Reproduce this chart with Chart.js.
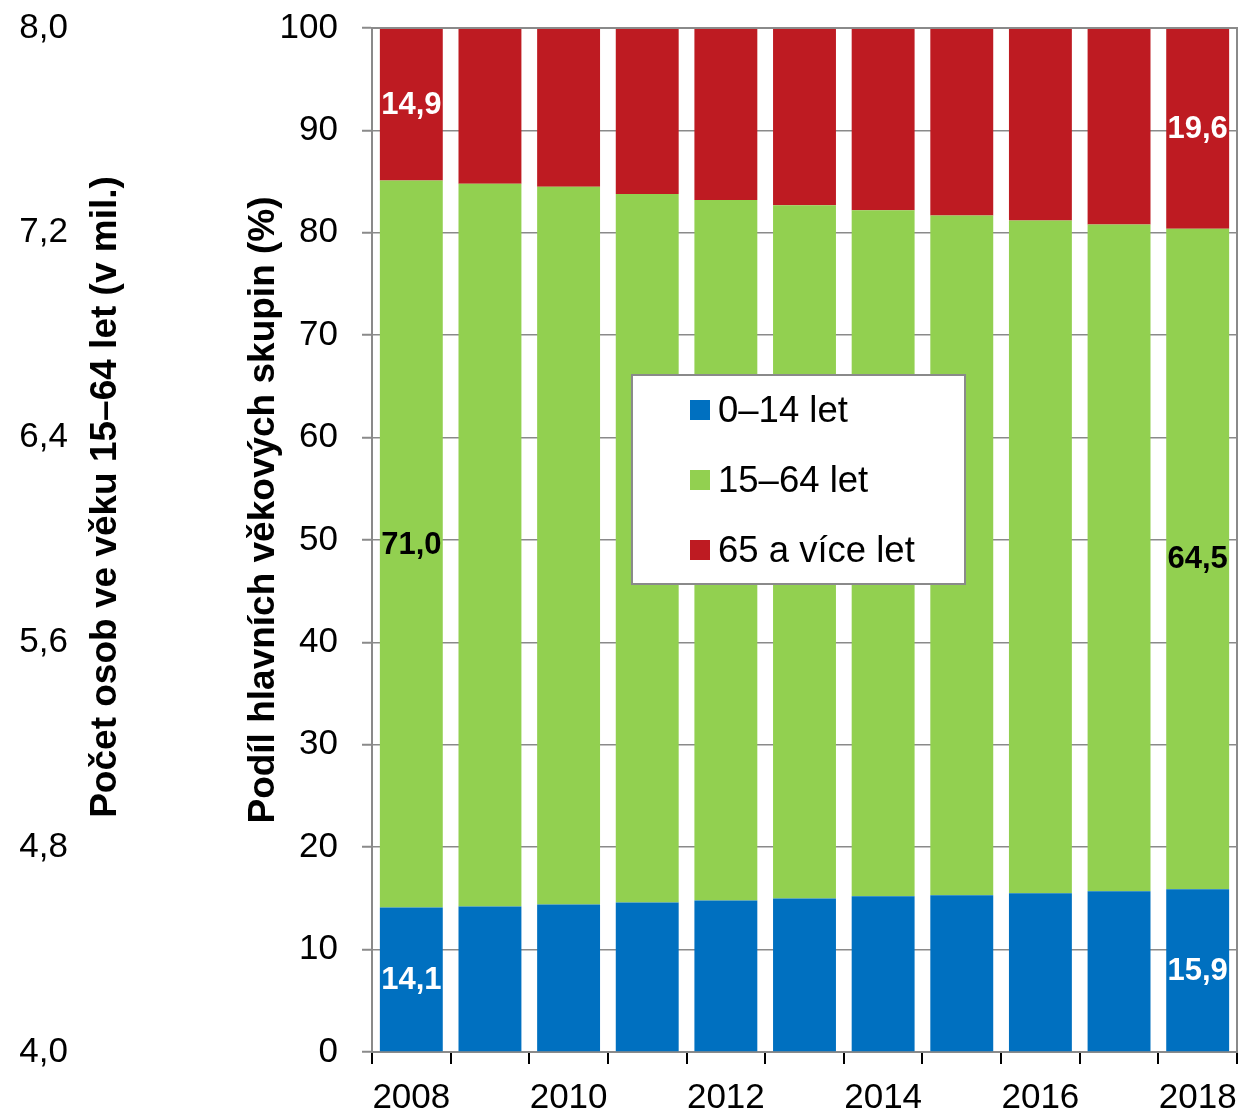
<!DOCTYPE html>
<html><head><meta charset="utf-8">
<script src="https://cdn.jsdelivr.net/npm/chart.js@4"></script>
<style>html,body{margin:0;padding:0;background:#fff}#wrap{width:1241px;height:1114px;position:relative}</style>
</head><body><div id="wrap"><canvas id="c" width="1241" height="1114"></canvas></div>
<script>
const years = ['2008','2009','2010','2011','2012','2013','2014','2015','2016','2017','2018'];
const seriesNames = ['0–14 let','15–64 let','65 a více let'];
const age0_14 = [14.1,14.2,14.4,14.6,14.8,15.0,15.2,15.3,15.5,15.7,15.9];
const age15_64 = [71.0,70.6,70.1,69.2,68.4,67.7,67.0,66.4,65.7,65.1,64.5];
const age65plus = [14.9,15.2,15.5,16.2,16.8,17.3,17.8,18.3,18.8,19.2,19.6];
const percentTicks = ['0','10','20','30','40','50','60','70','80','90','100'];
const countTicks = ['4,0','4,8','5,6','6,4','7,2','8,0'];
const titlePercent = 'Podíl hlavních věkových skupin (%)';
const titleCount = 'Počet osob ve věku 15–64 let (v mil.)';

const FONT = "'Liberation Sans', Arial, sans-serif";
const colors = ['#0070C0','#92D050','#BE1B22'];
const labelColors = ['#ffffff','#000000','#ffffff'];
const GREY = '#8a8a8a';

const framePlugin = {
  id:'frame',
  afterDatasetsDraw(chart){
    const {ctx, chartArea:a} = chart;
    ctx.save();
    ctx.strokeStyle = GREY; ctx.lineWidth = 2;
    ctx.beginPath();
    ctx.moveTo(a.left, a.top); ctx.lineTo(a.right, a.top); ctx.lineTo(a.right, a.bottom);
    ctx.stroke();
    ctx.restore();
  }
};

const labelPlugin = {
  id:'valueLabels',
  afterDatasetsDraw(chart){
    const ctx = chart.ctx;
    ctx.save();
    ctx.font = "bold 31px " + FONT;
    ctx.textAlign = 'center'; ctx.textBaseline = 'middle';
    chart.data.datasets.forEach((ds, i) => {
      const meta = chart.getDatasetMeta(i);
      [0, ds.data.length - 1].forEach(idx => {
        const el = meta.data[idx];
        const p = el.getProps(['x','y','base'], true);
        ctx.fillStyle = labelColors[i];
        ctx.fillText(ds.data[idx].toFixed(1).replace('.', ','), p.x, (p.y + p.base) / 2 + 1);
      });
    });
    ctx.restore();
  }
};

const legendPlugin = {
  id:'boxLegend',
  afterDraw(chart){
    const {ctx, chartArea:a} = chart;
    const x0 = a.left + 260, y0 = a.top + 347, w = 333, h = 209;
    ctx.save();
    ctx.fillStyle = '#fff'; ctx.fillRect(x0, y0, w, h);
    ctx.strokeStyle = GREY; ctx.lineWidth = 2; ctx.strokeRect(x0, y0, w, h);
    ctx.font = "36.5px " + FONT; ctx.textBaseline = 'middle'; ctx.textAlign = 'left';
    chart.data.datasets.forEach((ds, i) => {
      const cy = y0 + 35 + i * 70;
      ctx.fillStyle = ds.backgroundColor;
      ctx.fillRect(x0 + 58, cy - 10, 20, 20);
      ctx.fillStyle = '#000';
      ctx.fillText(ds.label, x0 + 86, cy + 2);
    });
    ctx.restore();
  }
};

const titleShift = {
  id:'titleShift',
  afterLayout(chart){
    const c = chart.scales.yCountTitle; c.bottom -= 86;
    const p = chart.scales.yPercentTitle; p.bottom -= 60;
  }
};

const noPad = s => { s.paddingTop = 0; s.paddingBottom = 0; s.paddingLeft = 0; s.paddingRight = 0; };

const titleAxis = (text, weight, width, pad) => ({
  type:'linear', position:'left', weight: weight,
  grid:{display:false, drawTicks:false, tickLength:0},
  border:{display:false},
  ticks:{display:false},
  title:{display:true, text:text, color:'#000', font:{family:FONT, size:37, weight:'bold'}, padding:{top:pad, bottom:0}},
  afterFit(s){ s.width = width; noPad(s); }
});

new Chart(document.getElementById('c'), {
  type:'bar',
  data:{
    labels: years,
    datasets:[
      {label:seriesNames[0], data:age0_14, backgroundColor:colors[0]},
      {label:seriesNames[1], data:age15_64, backgroundColor:colors[1]},
      {label:seriesNames[2], data:age65plus, backgroundColor:colors[2]}
    ]
  },
  options:{
    responsive:false, animation:false, devicePixelRatio:1,
    layout:{padding:{top:28, right:4, left:0, bottom:0}},
    datasets:{bar:{categoryPercentage:1.0, barPercentage:0.8, borderWidth:0}},
    plugins:{legend:{display:false}, tooltip:{enabled:false}},
    scales:{
      x:{
        stacked:true,
        grid:{offset:true, drawOnChartArea:false, tickLength:12, tickColor:'#000', lineWidth:2},
        border:{display:true, color:GREY, width:2},
        ticks:{autoSkip:false, maxRotation:0, padding:13, color:'#000', font:{family:FONT, size:35},
          callback:(v, i) => (i % 2 === 0 ? years[i] : '')},
        afterFit(s){ s.height = 62; noPad(s); }
      },
      y:{
        stacked:true, position:'left', weight:0, min:0, max:100,
        grid:{color:GREY, lineWidth:1.5, borderDash:[1.5,2.5], tickLength:10, tickColor:GREY, tickBorderDash:[], tickWidth:2},
        border:{display:true, color:GREY, width:2},
        ticks:{stepSize:10, padding:24, color:'#000', font:{family:FONT, size:35},
          callback:(v, i) => percentTicks[i]},
        afterFit(s){ s.width = 90; noPad(s); }
      },
      yPercentTitle: titleAxis(titlePercent, 1, 40, 0),
      yCountTitle: titleAxis(titleCount, 2, 162, 4),
      y2:{
        type:'linear', position:'left', weight:3, min:4, max:8,
        grid:{display:false, drawTicks:false, tickLength:0},
        border:{display:false},
        ticks:{stepSize:0.8, padding:12, color:'#000', font:{family:FONT, size:35},
          callback:(v, i) => countTicks[i]},
        afterFit(s){ s.width = 80; noPad(s); }
      }
    }
  },
  plugins:[titleShift, framePlugin, labelPlugin, legendPlugin]
});
</script>
</body></html>
